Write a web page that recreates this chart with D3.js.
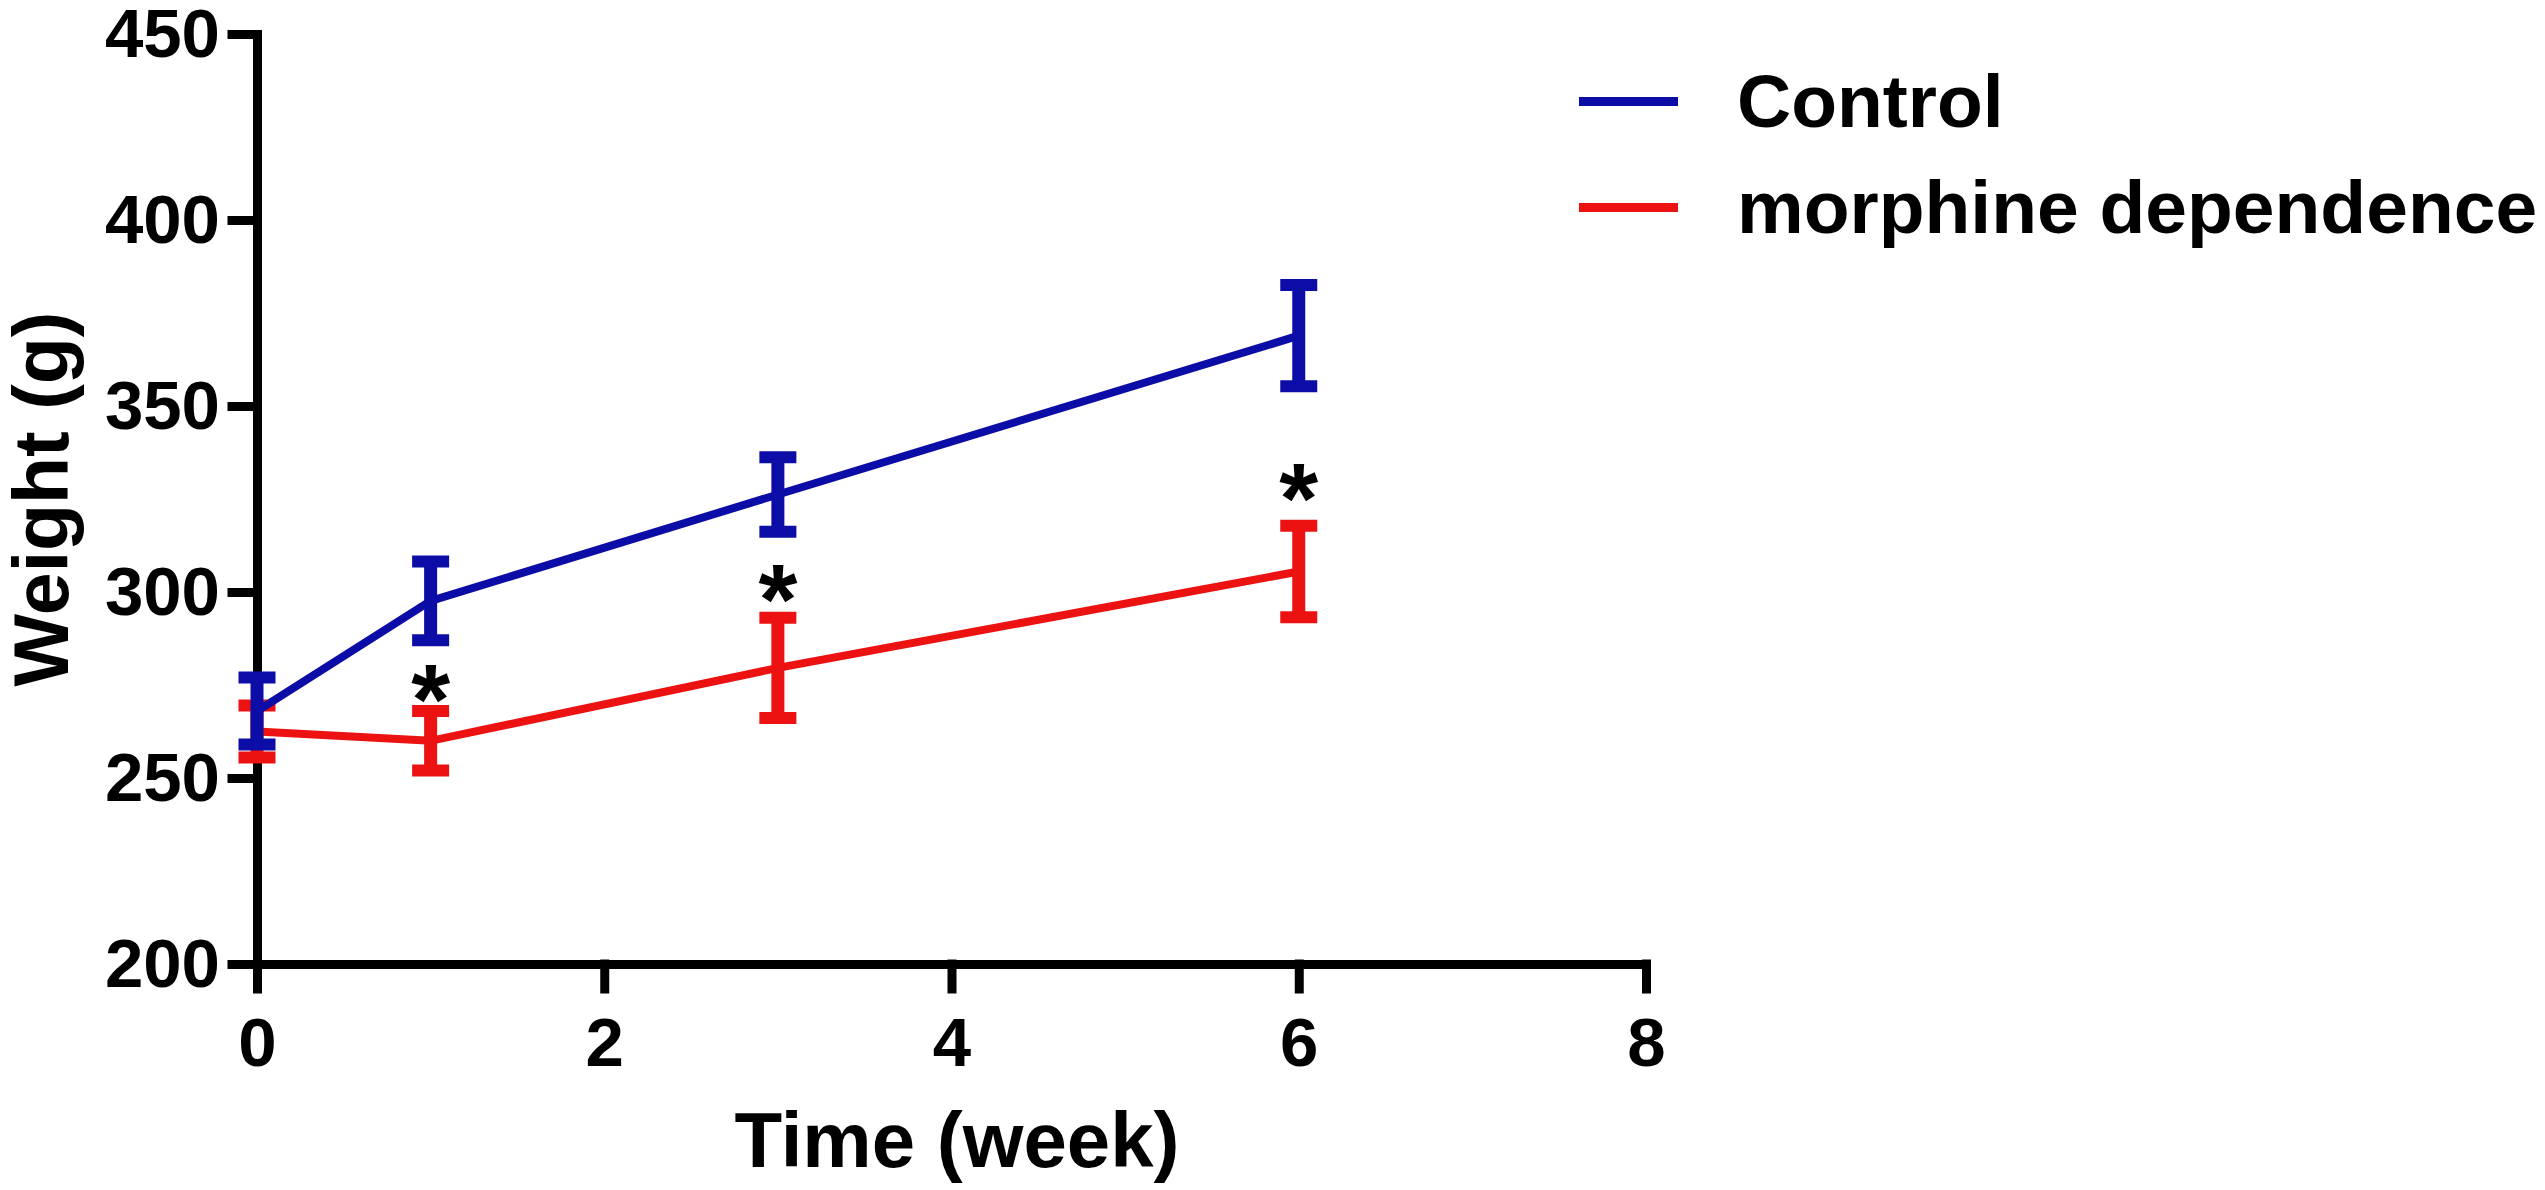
<!DOCTYPE html>
<html>
<head>
<meta charset="utf-8">
<script src="https://cdn.jsdelivr.net/npm/d3@7/dist/d3.min.js"></script>
<style>
  html, body { margin: 0; padding: 0; background: #fff; }
  svg { display: block; }
  text { font-family: "Liberation Sans", Arial, sans-serif; font-weight: bold; fill: #000; }
</style>
</head>
<body>
<svg id="chart" width="2545" height="1190"></svg>
<script>
// ---- data ----
const weeks = [0, 1, 3, 6];
const controlMean = [268, 297.6, 326.2, 368.9];
const controlErr = [9, 10.6, 10, 13.6];
const morphineMean = [262.5, 260, 279.6, 305.5];
const morphineErr = [7, 8, 13.5, 12.3];
const sigWeeks = [1, 3, 6];
const sigY = [277.2, 303.9, 331.3];
const xTicks = [0, 2, 4, 6, 8];
const yTicks = [200, 250, 300, 350, 400, 450];
const seriesNames = ["Control", "morphine dependence"];
const seriesColors = ["#0c0ca6", "#ec1212"];

// ---- chart ----
const svg = d3.select("#chart");
svg.append("rect").attr("width", 2545).attr("height", 1190).attr("fill", "#fff");

const x = d3.scaleLinear().domain([0, 8]).range([257, 1646]);
const y = d3.scaleLinear().domain([200, 450]).range([964, 34]);

const series = [
  { name: seriesNames[1], color: seriesColors[1], mean: morphineMean, err: morphineErr },
  { name: seriesNames[0], color: seriesColors[0], mean: controlMean, err: controlErr }
];

// axes
const yAxis = d3.axisLeft(y).tickValues(yTicks).tickSize(25).tickSizeOuter(0).tickPadding(12);
const xAxis = d3.axisBottom(x).tickValues(xTicks).tickSize(25).tickSizeOuter(0).tickPadding(28);

const gy = svg.append("g").attr("transform", `translate(${x(0)},0)`).call(yAxis);
const gx = svg.append("g").attr("transform", `translate(0,${y(200)})`).call(xAxis);
[gx, gy].forEach(g => {
  g.selectAll("path.domain").attr("stroke", "#000").attr("stroke-width", 9).attr("stroke-linecap", "square");
  g.selectAll(".tick line").attr("stroke", "#000").attr("stroke-width", 9).attr("stroke-linecap", "square");
  g.selectAll(".tick text").attr("font-size", 69).attr("font-family", "Liberation Sans, Arial, sans-serif")
    .attr("font-weight", "bold").attr("fill", "#000");
});

// axis titles
svg.append("text").attr("x", 957).attr("y", 1167).attr("text-anchor", "middle")
  .attr("font-size", 78).text("Time (week)");
svg.append("text").attr("transform", `translate(68,${(y(200) + y(450)) / 2}) rotate(-90)`)
  .attr("text-anchor", "middle").attr("font-size", 77).text("Weight (g)");

// series
const line = d3.line().x(d => x(d[0])).y(d => y(d[1]));
series.forEach(s => {
  const pts = weeks.map((w, i) => [w, s.mean[i]]);
  const g = svg.append("g");
  g.append("path").datum(pts).attr("d", line).attr("fill", "none")
    .attr("stroke", s.color).attr("stroke-width", 8);
  weeks.forEach((w, i) => {
    const cx = x(w), top = y(s.mean[i] + s.err[i]), bot = y(s.mean[i] - s.err[i]);
    g.append("line").attr("x1", cx).attr("x2", cx).attr("y1", top).attr("y2", bot)
      .attr("stroke", s.color).attr("stroke-width", 13);
    [top, bot].forEach(yy => {
      g.append("line").attr("x1", cx - 18.5).attr("x2", cx + 18.5).attr("y1", yy).attr("y2", yy)
        .attr("stroke", s.color).attr("stroke-width", 12);
    });
  });
});

// significance asterisks
sigWeeks.forEach((w, i) => {
  svg.append("text").attr("x", x(w)).attr("y", y(sigY[i]) + 57)
    .attr("text-anchor", "middle").attr("font-size", 100).text("*");
});

// legend
seriesNames.forEach((n, i) => {
  const ly = 101.5 + i * 106;
  svg.append("line").attr("x1", 1579).attr("x2", 1678).attr("y1", ly).attr("y2", ly)
    .attr("stroke", seriesColors[i]).attr("stroke-width", 9);
  svg.append("text").attr("x", 1737).attr("y", ly + 25.5).attr("font-size", 75).text(n);
});
</script>
</body>
</html>
